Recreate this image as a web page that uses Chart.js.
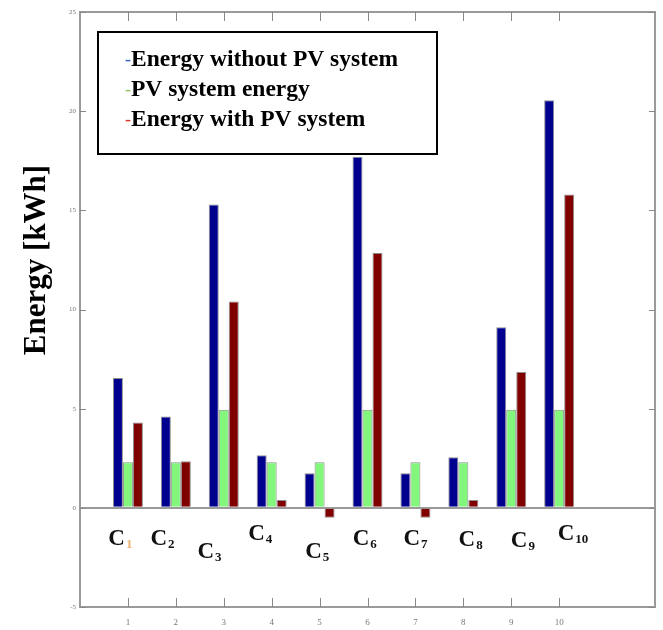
<!DOCTYPE html>
<html><head><meta charset="utf-8">
<script src="https://cdn.jsdelivr.net/npm/chart.js@4/dist/chart.umd.min.js"></script>
<style>html,body{margin:0;padding:0;background:#fff}#wrap{width:663px;height:630px}</style>
</head><body><div id="wrap"><canvas id="c" width="663" height="630"></canvas></div>
<script>
// ---- data ----
const categories = [1, 2, 3, 4, 5, 6, 7, 8, 9, 10];
const caseSubscripts = ['1', '2', '3', '4', '5', '6', '7', '8', '9', '10'];
const energyWithoutPV = [6.55, 4.6, 15.3, 2.65, 1.75, 17.7, 1.75, 2.55, 9.1, 20.55];
const pvSystemEnergy = [2.3, 2.3, 4.95, 2.3, 2.3, 4.95, 2.3, 2.3, 4.95, 4.95];
const energyWithPV = [4.3, 2.35, 10.4, 0.4, -0.5, 12.85, -0.5, 0.4, 6.85, 15.8];
const yTickValues = [-5, 0, 5, 10, 15, 20, 25];
const seriesNames = ['Energy without PV system', 'PV system energy', 'Energy with PV system'];
// case label anchors (axis units)
const caseLabelX = [0.59, 1.47, 2.45, 3.51, 4.70, 5.69, 6.75, 7.90, 8.99, 9.97];
const caseLabelY = [-1.56, -1.56, -2.22, -1.31, -2.22, -1.56, -1.56, -1.61, -1.66, -1.31];
const yTitle = 'Energy [kWh]';

const colors = ['#00008E', '#82F77C', '#800000'];
const dashColors = ['#3060c0', '#90c070', '#e03020'];

function pts(vals) { return categories.map((c, i) => ({ x: c, y: vals[i] })); }

const decor = {
  id: 'decor',
  afterDraw(chart) {
    const ctx = chart.ctx, a = chart.chartArea;
    const xs = chart.scales.x, ys = chart.scales.y;
    ctx.save();
    // box
    ctx.strokeStyle = '#9a9a9a'; ctx.lineWidth = 2;
    ctx.strokeRect(a.left, a.top, a.right - a.left, a.bottom - a.top);
    // inward ticks
    ctx.strokeStyle = '#888'; ctx.lineWidth = 1;
    ctx.beginPath();
    xs.ticks.forEach(t => {
      const px = Math.round(xs.getPixelForValue(t.value)) + 0.5;
      ctx.moveTo(px, a.bottom); ctx.lineTo(px, a.bottom - 9);
      ctx.moveTo(px, a.top); ctx.lineTo(px, a.top + 9);
    });
    ys.ticks.forEach(t => {
      const py = Math.round(ys.getPixelForValue(t.value)) + 0.5;
      ctx.moveTo(a.left, py); ctx.lineTo(a.left + 6, py);
      ctx.moveTo(a.right, py); ctx.lineTo(a.right - 6, py);
    });
    ctx.stroke();
    // case labels C1..C10
    ctx.textBaseline = 'middle'; ctx.textAlign = 'left';
    categories.forEach((c, i) => {
      const px = xs.getPixelForValue(caseLabelX[i]);
      const py = ys.getPixelForValue(caseLabelY[i]);
      ctx.font = 'bold 23px "Liberation Serif", "Times New Roman", serif';
      ctx.fillStyle = '#111';
      ctx.fillText('C', px, py);
      const w = ctx.measureText('C').width;
      ctx.font = 'bold 13px "Liberation Serif", "Times New Roman", serif';
      ctx.fillStyle = i === 0 ? '#f0b070' : '#111';
      ctx.fillText(caseSubscripts[i], px + w + 1, py + 6);
    });
    // y title
    ctx.save();
    ctx.translate(37, 260);
    ctx.rotate(-Math.PI / 2);
    ctx.textAlign = 'center'; ctx.textBaseline = 'middle';
    ctx.font = 'bold 31px "Liberation Serif", "Times New Roman", serif';
    ctx.fillStyle = '#000';
    ctx.fillText(yTitle, 0, 0);
    ctx.restore();
    // legend box
    ctx.fillStyle = '#fff';
    ctx.fillRect(98, 32, 339, 122);
    ctx.strokeStyle = '#000'; ctx.lineWidth = 2;
    ctx.strokeRect(98, 32, 339, 122);
    const ly = [60, 90, 120];
    seriesNames.forEach((n, i) => {
      ctx.textAlign = 'left'; ctx.textBaseline = 'middle';
      ctx.font = '18px "Liberation Serif", serif';
      ctx.fillStyle = dashColors[i];
      ctx.fillText('-', 125, ly[i]);
      const dw = ctx.measureText('-').width;
      ctx.font = 'bold 23.5px "Liberation Serif", "Times New Roman", serif';
      ctx.fillStyle = '#000';
      ctx.fillText(n, 125 + dw, ly[i]);
    });
    ctx.restore();
  }
};

new Chart(document.getElementById('c'), {
  type: 'bar',
  data: {
    datasets: [
      { label: seriesNames[0], data: pts(energyWithoutPV), backgroundColor: colors[0] },
      { label: seriesNames[1], data: pts(pvSystemEnergy), backgroundColor: colors[1] },
      { label: seriesNames[2], data: pts(energyWithPV), backgroundColor: colors[2] }
    ]
  },
  options: {
    responsive: false,
    animation: false,
    devicePixelRatio: 1,
    layout: { padding: { top: 12, right: 8, left: 0, bottom: 0 } },
    datasets: { bar: { categoryPercentage: 0.626, barPercentage: 1.0, borderWidth: 1, borderColor: 'rgba(50,50,50,0.55)' } },
    plugins: { legend: { display: false }, tooltip: { enabled: false } },
    scales: {
      x: {
        type: 'linear', min: 0, max: 12, offset: false,
        afterBuildTicks: s => { s.ticks = categories.map(v => ({ value: v })); },
        afterFit: s => { s.height = 23; },
        grid: { display: false, drawTicks: false },
        border: { display: false },
        ticks: { autoSkip: false, maxRotation: 0, padding: 10, color: '#777', font: { size: 9, family: 'Liberation Serif' } }
      },
      y: {
        min: -5, max: 25,
        afterBuildTicks: s => { s.ticks = yTickValues.map(v => ({ value: v })); },
        afterFit: s => { s.width = 80; },
        grid: {
          drawTicks: false,
          color: c => (c.tick && c.tick.value === 0) ? '#9a9a9a' : 'rgba(0,0,0,0)',
          lineWidth: c => (c.tick && c.tick.value === 0) ? 2 : 0
        },
        border: { display: false },
        ticks: { padding: 4, color: '#777', font: { size: 7, family: 'Liberation Serif' } }
      }
    }
  },
  plugins: [decor]
});
</script></body></html>
